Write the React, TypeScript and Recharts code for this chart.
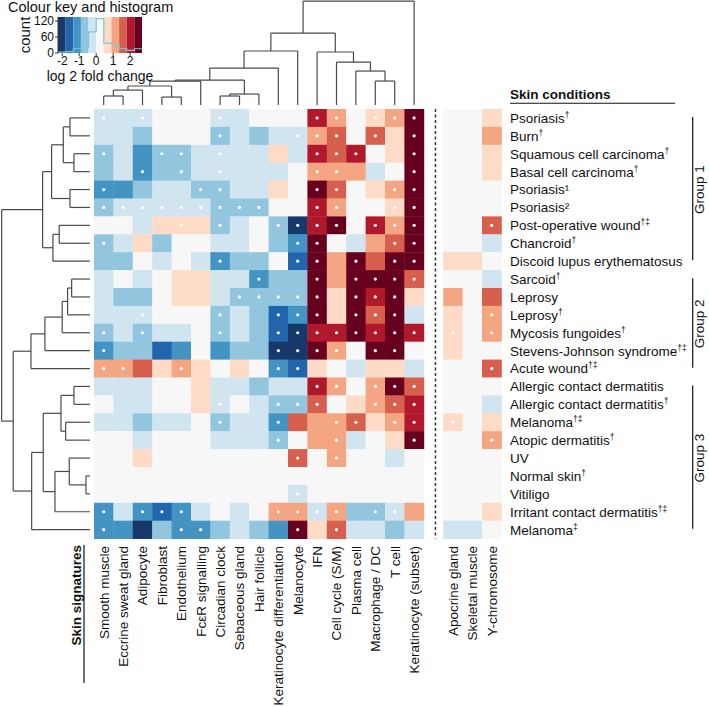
import React from 'react';
import {
  ScatterChart,
  Scatter,
  XAxis,
  YAxis,
  ReferenceLine,
  ComposedChart,
  Line,
  ReferenceArea,
} from 'recharts';

// ---------------- DATA ----------------
const signatures = [
  'Smooth muscle', 'Eccrine sweat gland', 'Adipocyte', 'Fibroblast', 'Endothelium',
  'FcεR signalling', 'Circadian clock', 'Sebaceous gland', 'Hair follicle',
  'Keratinocyte differentiation', 'Melanocyte', 'IFN', 'Cell cycle (S/M)', 'Plasma cell',
  'Macrophage / DC', 'T cell', 'Keratinocyte (subset)',
  'Apocrine gland', 'Skeletal muscle', 'Y-chromosome',
];

const conditions = [
  'Psoriasis†', 'Burn†', 'Squamous cell carcinoma†', 'Basal cell carcinoma†', 'Psoriasis¹',
  'Psoriasis²', 'Post-operative wound†‡', 'Chancroid†', 'Discoid lupus erythematosus',
  'Sarcoid†', 'Leprosy', 'Leprosy†', 'Mycosis fungoides†', 'Stevens-Johnson syndrome†‡',
  'Acute wound†‡', 'Allergic contact dermatitis', 'Allergic contact dermatitis†',
  'Melanoma†‡', 'Atopic dermatitis†', 'UV', 'Normal skin†', 'Vitiligo',
  'Irritant contact dermatitis†‡', 'Melanoma‡',
];

const groups = [
  { name: 'Group 1', first: 0, last: 8 },
  { name: 'Group 2', first: 9, last: 14 },
  { name: 'Group 3', first: 15, last: 23 },
];

// log2 fold change per condition (rows) x signature (columns)
const foldChanges: number[][] = [
  [-0.2, -0.2, -0.2, 0.2, 0.2, 0.2, -0.2, -0.2, 0.2, 0.2, 0.2, 2.0, 1.1, 0.2, 0.7, 1.1, 2.5, 0.2, 0.2, 0.7],
  [-0.2, -0.2, -0.7, 0.2, 0.2, 0.2, -0.7, -0.2, -0.7, -0.2, -0.2, 1.1, 1.6, 0.2, 1.6, 0.7, 2.5, 0.2, 0.2, 1.1],
  [-0.7, -0.2, -1.1, -0.7, -0.7, -0.2, -0.2, -0.2, -0.2, 0.7, -0.2, 2.0, 1.6, 2.0, 0.2, 0.7, 2.5, 0.2, 0.2, 0.7],
  [-0.7, -0.2, -1.1, -0.7, -0.7, -0.2, -0.2, -0.2, -0.2, -0.2, 0.2, 1.1, 1.1, 1.1, -0.2, 0.2, 2.5, 0.2, 0.2, 0.7],
  [-1.1, -1.1, -0.7, -0.2, -0.2, -0.7, -0.7, -0.2, -0.2, 0.7, 0.2, 2.5, 1.6, 0.2, 0.7, 1.1, 2.5, 0.2, 0.2, 0.2],
  [-0.7, -0.2, -0.2, -0.2, -0.2, -0.2, -0.7, -0.7, -0.7, 0.2, 0.2, 2.0, 1.1, 0.2, 0.2, 0.7, 2.5, 0.2, 0.2, 0.2],
  [0.2, 0.2, -0.2, 0.7, 0.7, 0.7, -0.7, -0.2, 0.2, -0.7, -2.0, 2.0, 2.5, 0.2, 2.0, 1.1, 2.5, 0.2, 0.2, 1.6],
  [-0.7, -0.2, 0.7, -0.7, 0.2, 0.2, -0.2, -0.2, 0.2, -0.7, -1.1, 2.5, 0.2, -0.2, 1.1, 1.6, 2.5, 0.2, 0.2, -0.2],
  [-0.7, -0.7, 0.2, -0.2, 0.2, -0.2, -1.1, -0.7, -0.7, 0.2, -1.6, 2.5, 1.1, 2.5, 1.6, 2.5, 2.5, 0.7, 0.7, 0.2],
  [-0.2, 0.2, -0.2, 0.2, 0.7, 0.7, -0.2, -0.2, -1.1, -0.7, -0.7, 2.5, 1.1, 2.5, 2.5, 2.5, 1.6, 0.2, 0.2, -0.2],
  [-0.2, -0.7, -0.7, 0.2, 0.7, 0.7, -0.2, -0.7, -0.7, -0.7, -0.7, 2.5, 0.7, 2.5, 2.0, 2.5, 0.7, 1.1, 0.2, 1.6],
  [-0.2, -0.2, -0.2, 0.2, 0.2, 0.2, -0.7, -0.2, -0.7, -1.6, -1.1, 2.5, 0.7, 2.5, 1.6, 2.5, -0.2, 0.7, 0.2, 1.1],
  [-0.7, -0.2, -0.7, -0.2, -0.2, 0.2, -0.7, -0.2, -0.7, -1.6, -2.0, 2.0, 2.0, 2.5, 2.0, 2.5, 2.0, 0.7, 0.2, 1.1],
  [-1.1, -0.7, -0.7, -1.6, -1.1, 0.2, -1.1, -0.7, -0.7, -2.0, -2.0, 2.5, 1.1, 0.2, 2.5, 2.5, 0.2, 0.7, 0.2, 0.2],
  [1.1, 1.1, 1.6, 0.7, 1.1, 0.7, 0.2, 0.7, 0.2, -1.1, -1.6, 0.7, 0.2, -0.2, 0.7, 0.7, -0.2, 0.2, 0.2, 1.6],
  [-0.2, -0.2, -0.2, 0.2, 0.2, 0.7, -0.2, -0.2, -0.7, -0.2, -0.2, 2.0, 1.1, 0.2, 1.1, 2.5, 1.6, 0.2, 0.2, 0.2],
  [0.2, -0.2, -0.2, 0.2, 0.2, 0.7, -0.2, 0.2, -0.2, -0.7, -0.7, 1.6, 0.2, 0.7, 1.1, 1.6, 2.0, 0.2, 0.2, -0.2],
  [-0.2, -0.2, -0.7, -0.2, -0.2, 0.2, -0.7, -0.2, -0.2, -1.1, 1.6, 1.1, 1.1, 1.6, 0.7, 1.1, 2.0, 0.7, 0.2, 0.7],
  [0.2, 0.2, -0.2, 0.2, 0.2, 0.2, -0.2, -0.2, -0.2, -0.7, 0.2, 1.1, 1.1, -0.2, 0.2, 0.7, 2.5, 0.2, 0.2, 1.1],
  [0.2, 0.2, 0.7, 0.2, 0.2, 0.2, 0.2, 0.2, 0.2, 0.2, 1.6, 0.2, 1.1, 0.2, 0.2, -0.2, 0.2, 0.2, 0.2, 0.2],
  [0.2, 0.2, 0.2, 0.2, 0.2, 0.2, 0.2, 0.2, 0.2, 0.2, 0.2, 0.2, 0.2, 0.2, 0.2, 0.2, 0.2, 0.2, 0.2, 0.2],
  [0.2, 0.2, 0.2, 0.2, 0.2, 0.2, 0.2, 0.2, 0.2, 0.2, -0.2, 0.2, 0.2, 0.2, 0.2, 0.2, 0.2, 0.2, 0.2, 0.2],
  [-1.1, -0.2, -1.1, -1.6, -1.1, -0.2, 0.2, -0.2, 0.2, 1.1, 1.1, -0.2, 1.1, -0.7, -0.7, -0.2, 1.1, 0.2, 0.2, 0.7],
  [-1.1, -1.1, -2.0, -0.7, -1.1, -1.1, -0.7, -0.2, -0.7, -1.1, 2.5, 0.7, 1.6, -0.2, -0.2, -0.7, -0.2, -0.2, -0.2, 0.2],
];

// significance marks (white dots)
const significant: number[][] = [
  [1, 0, 1, 0, 0, 0, 1, 0, 0, 0, 0, 1, 1, 0, 1, 1, 1, 0, 0, 0],
  [0, 0, 0, 0, 0, 0, 1, 0, 0, 0, 1, 1, 1, 0, 1, 0, 1, 0, 0, 0],
  [1, 0, 0, 1, 1, 0, 1, 0, 0, 0, 0, 1, 1, 1, 0, 0, 1, 0, 0, 0],
  [0, 0, 1, 0, 1, 0, 1, 0, 0, 0, 0, 1, 1, 0, 0, 0, 1, 0, 0, 0],
  [1, 0, 0, 0, 0, 1, 1, 0, 0, 0, 0, 1, 1, 0, 0, 1, 1, 0, 0, 0],
  [1, 1, 1, 1, 1, 1, 1, 1, 1, 0, 0, 1, 1, 0, 0, 1, 1, 0, 0, 0],
  [0, 0, 0, 0, 1, 0, 1, 0, 0, 1, 1, 1, 1, 0, 1, 1, 1, 0, 0, 1],
  [1, 0, 0, 0, 0, 0, 0, 0, 0, 0, 1, 1, 0, 0, 0, 1, 1, 0, 0, 0],
  [0, 0, 0, 0, 0, 0, 1, 0, 0, 0, 1, 1, 0, 1, 0, 1, 1, 0, 0, 0],
  [0, 0, 0, 0, 0, 0, 0, 0, 1, 0, 0, 1, 0, 1, 1, 1, 1, 0, 0, 0],
  [0, 0, 0, 0, 0, 0, 0, 1, 1, 1, 1, 1, 0, 1, 1, 1, 0, 0, 0, 0],
  [0, 0, 1, 0, 0, 0, 1, 0, 0, 1, 1, 1, 0, 1, 1, 1, 0, 0, 0, 1],
  [1, 0, 1, 0, 0, 0, 1, 0, 0, 1, 1, 1, 1, 1, 1, 1, 1, 1, 0, 1],
  [1, 0, 0, 0, 0, 0, 0, 0, 0, 1, 1, 1, 1, 0, 1, 1, 0, 0, 0, 0],
  [1, 1, 0, 0, 1, 0, 0, 0, 0, 1, 1, 0, 0, 0, 0, 0, 0, 0, 0, 1],
  [0, 0, 0, 0, 0, 0, 0, 0, 0, 0, 0, 1, 1, 0, 1, 1, 1, 0, 0, 0],
  [0, 0, 0, 0, 0, 0, 1, 0, 0, 1, 1, 1, 0, 0, 1, 1, 1, 0, 0, 0],
  [0, 0, 0, 0, 0, 0, 1, 0, 0, 1, 0, 0, 1, 1, 0, 1, 1, 1, 0, 0],
  [0, 0, 0, 0, 0, 0, 0, 0, 0, 1, 0, 0, 1, 0, 0, 0, 1, 0, 0, 1],
  [0, 0, 0, 0, 0, 0, 0, 0, 0, 0, 1, 0, 1, 0, 0, 0, 0, 0, 0, 0],
  [0, 0, 0, 0, 0, 0, 0, 0, 0, 0, 0, 0, 0, 0, 0, 0, 0, 0, 0, 0],
  [0, 0, 0, 0, 0, 0, 0, 0, 0, 0, 1, 0, 0, 0, 0, 0, 0, 0, 0, 0],
  [1, 0, 1, 1, 1, 0, 0, 0, 0, 1, 1, 1, 1, 0, 1, 1, 0, 0, 0, 0],
  [1, 0, 0, 0, 1, 1, 0, 0, 0, 0, 1, 0, 1, 0, 0, 0, 0, 0, 0, 0],
];

// colour key (log2 fold change breaks) and histogram counts
const keyBreaks = [-2.25, -1.8, -1.35, -0.9, -0.45, 0, 0.45, 0.9, 1.35, 1.8, 2.25, 2.7];
const keyColours = ['#17386b', '#2166ac', '#4393c3', '#92c5de', '#d1e5f0', '#f7f7f7', '#fddbc7', '#f4a582', '#d6604d', '#b2182b', '#67001f'];
const histogramCounts = [3, 5, 16, 20, 79, 129, 37, 32, 16, 10, 16];
const keyTicksX = [-2, -1, 0, 1, 2];
const keyTicksY = [0, 60, 120];

// dendrograms: [childA, childB, normalised height]; ids >= 100 refer to earlier merges
const signatureMerges: [number, number, number][] = [
  [0, 1, 0.087], [100, 2, 0.144], [3, 4, 0.077], [101, 102, 0.183], [103, 5, 0.231],
  [6, 7, 0.087], [105, 8, 0.106], [104, 106, 0.24], [107, 9, 0.356], [108, 10, 0.52],
  [14, 15, 0.231], [13, 110, 0.327], [12, 111, 0.413], [11, 112, 0.51],
  [109, 113, 0.692], [114, 16, 1.0],
];
const conditionMerges: [number, number, number][] = [
  [0, 1, 0.226], [2, 3, 0.181], [100, 101, 0.302], [4, 5, 0.226], [102, 103, 0.434],
  [6, 7, 0.348], [105, 8, 0.419], [104, 106, 0.536],
  [9, 10, 0.207], [108, 11, 0.253], [109, 12, 0.314], [110, 13, 0.51], [111, 14, 0.668],
  [15, 16, 0.181], [17, 18, 0.275], [113, 114, 0.328], [20, 21, 0.045], [19, 116, 0.234],
  [117, 22, 0.396], [115, 118, 0.529], [119, 23, 0.66],
  [112, 120, 0.869], [107, 121, 1.0],
];

// ---------------- LAYOUT ----------------
const FONT = '"Liberation Sans", Arial, Helvetica, sans-serif';
const W = 709;
const H = 707;
const X_DOMAIN: [number, number] = [-5.345, 31.2];
const Y_DOMAIN: [number, number] = [-6.589, 32.908];
const CW = W / (X_DOMAIN[1] - X_DOMAIN[0]);
const CH = H / (Y_DOMAIN[1] - Y_DOMAIN[0]);
const colX = (j: number) => (j < 17 ? j : j + 1);
const TOP_BASE = -0.72;
const TOP_SPAN = 5.81;
const LEFT_BASE = -0.71;
const LEFT_SPAN = 4.55;
const ROW_LABEL_X = 20.94;
const COL_LABEL_Y = 23.91;
const SEPARATOR_X = 17.1;
const BRACKET_X = 30.36;
const GROUP_LABEL_X = 30.7;
const DENDRO = '#4a4a4a';

function colourFor(v: number) {
  for (let i = 0; i < keyColours.length; i++) {
    if (v >= keyBreaks[i] && v < keyBreaks[i + 1]) return keyColours[i];
  }
  return v < keyBreaks[0] ? keyColours[0] : keyColours[keyColours.length - 1];
}

function dendroSegments(merges: [number, number, number][]) {
  const pos: number[] = [];
  const hgt: number[] = [];
  const get = (id: number): [number, number] => (id >= 100 ? [pos[id - 100], hgt[id - 100]] : [id, 0]);
  const segs: [number, number, number, number][] = [];
  merges.forEach(([a, b, h], i) => {
    const [pa, ha] = get(a);
    const [pb, hb] = get(b);
    segs.push([pa, ha, pa, h], [pa, h, pb, h], [pb, hb, pb, h]);
    pos[i] = (pa + pb) / 2;
    hgt[i] = h;
  });
  return segs;
}

const cells = conditions.flatMap((_, r) =>
  foldChanges[r].map((v, j) => ({ x: colX(j), y: r, v, sig: significant[r][j] }))
);
const rowLabels = conditions.map((label, r) => ({ x: ROW_LABEL_X, y: r, label }));
const colLabels = signatures.map((label, j) => ({ x: colX(j), y: COL_LABEL_Y, label }));
const groupLabels = groups.map((g) => ({ x: GROUP_LABEL_X, y: (g.first + g.last) / 2, label: g.name }));
const topSegs = dendroSegments(signatureMerges);
const leftSegs = dendroSegments(conditionMerges);

const SUP = '†‡';
function splitLabel(s: string): [string, string] {
  let i = s.length;
  while (i > 0 && SUP.includes(s[i - 1])) i--;
  return [s.slice(0, i), s.slice(i)];
}

const CellShape = (p: any) => {
  const { cx, cy, payload } = p;
  return (
    <g>
      <rect x={cx - CW / 2} y={cy - CH / 2} width={CW + 0.4} height={CH + 0.4} fill={colourFor(payload.v)} />
      {payload.sig ? <circle cx={cx} cy={cy} r={1.6} fill="#ffffff" /> : null}
    </g>
  );
};

const RowLabelShape = (p: any) => {
  const { cx, cy, payload } = p;
  const [base, sup] = splitLabel(payload.label);
  return (
    <text x={cx} y={cy} dy="0.36em" fontSize={13.5} fontFamily={FONT} fill="#111">
      {base}
      {sup ? (
        <tspan fontSize={8.5} dy={-5}>
          {sup}
        </tspan>
      ) : null}
    </text>
  );
};

const ColLabelShape = (p: any) => {
  const { cx, cy, payload } = p;
  return (
    <text
      x={cx}
      y={cy}
      dy="0.36em"
      textAnchor="end"
      transform={`rotate(-90, ${cx}, ${cy})`}
      fontSize={13.5}
      fontFamily={FONT}
      fill="#111"
    >
      {payload.label}
    </text>
  );
};

const GroupLabelShape = (p: any) => {
  const { cx, cy, payload } = p;
  return (
    <text
      x={cx}
      y={cy}
      dy="0.36em"
      textAnchor="middle"
      transform={`rotate(-90, ${cx}, ${cy})`}
      fontSize={13.5}
      fontFamily={FONT}
      fill="#111"
    >
      {payload.label}
    </text>
  );
};

const HeaderShape = (p: any) => {
  const { cx, cy, payload } = p;
  if (payload.rotate) {
    return (
      <text
        x={cx}
        y={cy}
        dy="0.36em"
        textAnchor="end"
        transform={`rotate(-90, ${cx}, ${cy})`}
        fontSize={13.5}
        fontWeight="bold"
        fontFamily={FONT}
        fill="#111"
      >
        {payload.label}
      </text>
    );
  }
  return (
    <text x={cx} y={cy} fontSize={13.5} fontWeight="bold" fontFamily={FONT} fill="#111">
      {payload.label}
    </text>
  );
};

const headers = [
  { x: ROW_LABEL_X, y: -1.06, label: 'Skin conditions', rotate: false },
  { x: -1.44, y: 23.86, label: 'Skin signatures', rotate: true },
];

function MainChart() {
  return (
    <ScatterChart width={W} height={H} margin={{ top: 0, right: 0, bottom: 0, left: 0 }}>
      <XAxis type="number" dataKey="x" domain={X_DOMAIN} allowDataOverflow hide />
      <YAxis type="number" dataKey="y" domain={Y_DOMAIN} allowDataOverflow reversed hide />
      <Scatter data={cells} shape={CellShape} isAnimationActive={false} />
      {topSegs.map((s, i) => (
        <ReferenceLine
          key={'t' + i}
          segment={[
            { x: s[0], y: TOP_BASE - s[1] * TOP_SPAN },
            { x: s[2], y: TOP_BASE - s[3] * TOP_SPAN },
          ]}
          stroke={DENDRO}
          strokeWidth={1.2}
        />
      ))}
      {leftSegs.map((s, i) => (
        <ReferenceLine
          key={'l' + i}
          segment={[
            { x: LEFT_BASE - s[1] * LEFT_SPAN, y: s[0] },
            { x: LEFT_BASE - s[3] * LEFT_SPAN, y: s[2] },
          ]}
          stroke={DENDRO}
          strokeWidth={1.2}
        />
      ))}
      <ReferenceLine
        segment={[
          { x: SEPARATOR_X, y: -0.5 },
          { x: SEPARATOR_X, y: conditions.length - 0.5 },
        ]}
        stroke="#333"
        strokeWidth={1.5}
        strokeDasharray="3 2.5"
      />
      {groups.map((g) => (
        <ReferenceLine
          key={g.name}
          segment={[
            { x: BRACKET_X, y: g.first - 0.05 },
            { x: BRACKET_X, y: g.last - 0.05 },
          ]}
          stroke="#111"
          strokeWidth={1.2}
        />
      ))}
      <ReferenceLine
        segment={[
          { x: ROW_LABEL_X, y: -0.82 },
          { x: 29.45, y: -0.82 },
        ]}
        stroke="#111"
        strokeWidth={1.2}
      />
      <ReferenceLine
        segment={[
          { x: -1.015, y: 23.86 },
          { x: -1.015, y: 31.57 },
        ]}
        stroke="#111"
        strokeWidth={1.2}
      />
      <Scatter data={rowLabels} shape={RowLabelShape} isAnimationActive={false} />
      <Scatter data={colLabels} shape={ColLabelShape} isAnimationActive={false} />
      <Scatter data={groupLabels} shape={GroupLabelShape} isAnimationActive={false} />
      <Scatter data={headers} shape={HeaderShape} isAnimationActive={false} />
    </ScatterChart>
  );
}

const histogramData = keyBreaks.map((x, i) => ({
  x,
  count: histogramCounts[Math.min(i, histogramCounts.length - 1)],
}));

function ColourKey() {
  return (
    <ComposedChart width={175} height={85} data={histogramData} margin={{ top: 17, right: 33, bottom: 18, left: 28 }}>
      <XAxis
        type="number"
        dataKey="x"
        domain={[keyBreaks[0], keyBreaks[keyBreaks.length - 1]]}
        ticks={keyTicksX}
        allowDataOverflow
        height={14}
        tickSize={3}
        tickMargin={0}
        axisLine={false}
        tickLine={{ stroke: '#333' }}
        tick={{ fontSize: 12, fill: '#111', fontFamily: FONT }}
        interval={0}
      />
      <YAxis
        type="number"
        domain={[0, 135]}
        ticks={keyTicksY}
        allowDataOverflow
        width={30}
        tickSize={3}
        tickMargin={1}
        axisLine={{ stroke: '#333' }}
        tickLine={{ stroke: '#333' }}
        tick={{ fontSize: 12, fill: '#111', fontFamily: FONT }}
        interval={0}
      />
      {keyColours.map((c, i) => (
        <ReferenceArea
          key={c}
          x1={keyBreaks[i]}
          x2={keyBreaks[i + 1]}
          y1={0}
          y2={135}
          fill={c}
          fillOpacity={1}
          stroke="none"
          ifOverflow="visible"
        />
      ))}
      <Line
        type="stepAfter"
        dataKey="count"
        stroke="#7fc6d2"
        strokeWidth={1.2}
        dot={false}
        isAnimationActive={false}
      />
    </ComposedChart>
  );
}

export default function App() {
  return (
    <div style={{ position: 'absolute', left: 0, top: 0, width: W, height: H, background: '#fff' }}>
      <div style={{ position: 'absolute', left: 0, top: 0 }}>
        <MainChart />
      </div>
      <div style={{ position: 'absolute', left: 0, top: 0 }}>
        <ColourKey />
      </div>
      <svg style={{ position: 'absolute', left: 0, top: 0 }} width={200} height={90}>
        <text x={8} y={12} fontSize={14.5} fontFamily={FONT} fill="#111">
          Colour key and histogram
        </text>
        <text
          x={25}
          y={35}
          dy="0.36em"
          textAnchor="middle"
          transform="rotate(-90, 25, 35)"
          fontSize={15}
          fontFamily={FONT}
          fill="#111"
        >
          count
        </text>
        <text x={100} y={81} textAnchor="middle" fontSize={14} fontFamily={FONT} fill="#111">
          log 2 fold change
        </text>
      </svg>
    </div>
  );
}
